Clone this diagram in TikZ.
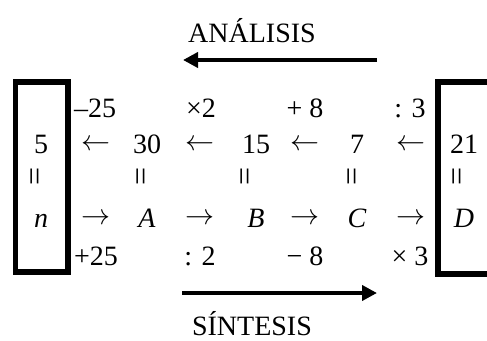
\RequirePackage{fix-cm}
\documentclass[tikz,border=0pt]{standalone}
\usepackage{fontspec}
\setmainfont{Liberation Serif}
\usetikzlibrary{arrows.meta}
\begin{document}
\begin{tikzpicture}[x=1pt,y=-1pt,
    every node/.style = {inner sep=0pt, anchor=base,
    font=\fontsize{28}{30}\selectfont},
    oper/.style = {},
    pointer/.style = {anchor=center, font=\fontsize{29}{31}\selectfont},
    iseq/.style = {anchor=center, font=\fontsize{32}{34}\selectfont},
    frame/.style = {line width=5.5pt, line join=miter},
    bigarrow/.style = {line width=4.5pt, -{Triangle[length=15pt,width=15pt]}}]
\useasboundingbox (0,0) rectangle (487,340);
% numbers
\node (v0) at (41,153) {5};
\node (v1) at (147,153) {30};
\node (v2) at (256,153) {15};
\node (v3) at (357,153) {7};
\node (v4) at (464,153) {21};
\node[pointer] (l1) at (96,145) {$\leftarrow$};
\node[pointer] (l2) at (200,145) {$\leftarrow$};
\node[pointer] (l3) at (305,145) {$\leftarrow$};
\node[pointer] (l4) at (411,145) {$\leftarrow$};
% equal signs
\node[iseq] (e0) at (38,176) {\rotatebox{90}{=}};
\node[iseq] (e1) at (144,176) {\rotatebox{90}{=}};
\node[iseq] (e2) at (248,176) {\rotatebox{90}{=}};
\node[iseq] (e3) at (355,176) {\rotatebox{90}{=}};
\node[iseq] (e4) at (460,176) {\rotatebox{90}{=}};
% letters
\node (n) at (41,227) {\itshape n};
\node (A) at (147,227) {\itshape A};
\node (B) at (256,227) {\itshape B};
\node (C) at (357,227) {\itshape C};
\node (D) at (464,227) {\itshape D};
\node[pointer] (r1) at (96,219) {$\rightarrow$};
\node[pointer] (r2) at (200,219) {$\rightarrow$};
\node[pointer] (r3) at (305,219) {$\rightarrow$};
\node[pointer] (r4) at (411,219) {$\rightarrow$};
% operations
\node[oper,anchor=base west] (t1) at (74,117) {–25};
\node[oper] (t2) at (201,117) {×2};
\node[oper] (t3) at (305,117) {+ 8};
\node[oper] (t4) at (410,117) {: 3};
\node[oper,anchor=base west] (b1) at (74,265) {+25};
\node[oper] (b2) at (200,265) {: 2};
\node[oper] (b3) at (305,265) {− 8};
\node[oper] (b4) at (410,265) {× 3};
% boxes
\draw[frame] (15.5,82) rectangle (68,272);
\draw[frame] (495,82) -- (438,82) -- (438,274) -- (495,274);
% analisis / sintesis
\node (ana) at (252,42.5) {ANÁLISIS};
\coordinate (anaR) at (377,60);
\coordinate (anaL) at (183,60);
\draw[bigarrow] (anaR) -- (anaL);
\coordinate (sinL) at (182,293);
\coordinate (sinR) at (377,293);
\draw[bigarrow] (sinL) -- (sinR);
\node (sin) at (252,335) {SÍNTESIS};
\end{tikzpicture}
\end{document}
